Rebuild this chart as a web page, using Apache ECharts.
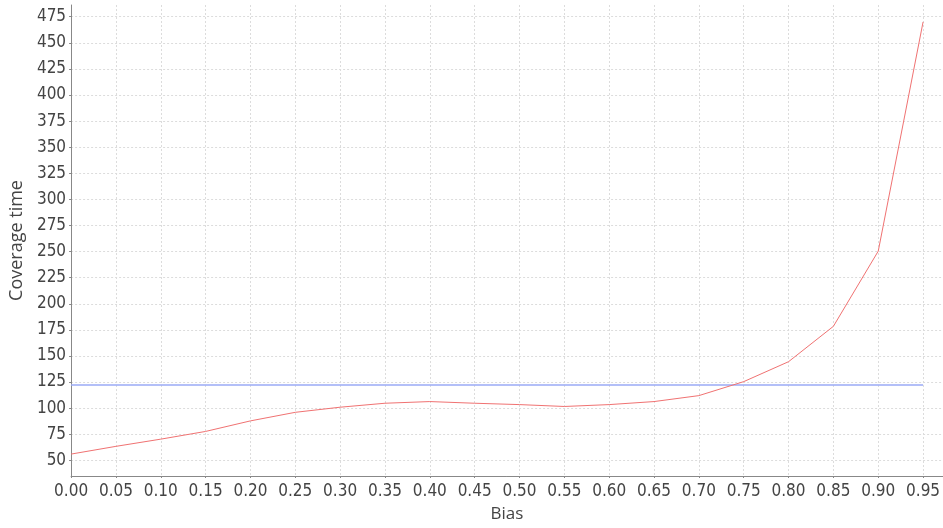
<!DOCTYPE html>
<html>
<head>
<meta charset="utf-8">
<style>
html,body{margin:0;padding:0;background:#fff;}
#chart{width:943px;height:528px;}
</style>
<script src="https://cdn.jsdelivr.net/npm/echarts@6/dist/echarts.min.js"></script>
</head>
<body>
<div id="chart"></div>
<script>
const bias = [0.00,0.05,0.10,0.15,0.20,0.25,0.30,0.35,0.40,0.45,0.50,0.55,0.60,0.65,0.70,0.75,0.80,0.85,0.90,0.95];
const coverageTime = [56,63.4,70.3,77.7,87.8,96,100.9,104.7,106.3,104.7,103.4,101.6,103.4,106.3,112,125.4,144.5,178.4,250.4,470];
const baselineValue = 122.1;
const baseline = bias.map(b => [b, baselineValue]);
const series1 = bias.map((b, i) => [b, coverageTime[i]]);

const tickFont = '"DejaVu Sans Condensed", "DejaVu Sans", sans-serif';
const titleFont = '"Open Sans", "Noto Sans", sans-serif';
const chart = echarts.init(document.getElementById('chart'));
chart.setOption({
  animation: false,
  backgroundColor: '#ffffff',
  grid: {left: 66.7, right: 0, top: 5, bottom: 50, containLabel: false},
  xAxis: {
    type: 'value', min: 0, max: 0.972, interval: 0.05,
    name: 'Bias', nameLocation: 'middle', nameGap: 30,
    nameTextStyle: {fontFamily: titleFont, fontSize: 17, color: '#444'},
    axisLine: {show: true, lineStyle: {color: '#888', width: 1}},
    axisTick: {show: true, length: 2, lineStyle: {color: '#888'}},
    axisLabel: {showMaxLabel: false, margin: 7, fontFamily: tickFont, fontSize: 17, color: '#444',
      formatter: v => v.toFixed(2)},
    splitLine: {show: true, showMaxLine: false, lineStyle: {color: '#dcdcdc', type: [2, 2], width: 1}}
  },
  yAxis: {
    type: 'value', min: 35, max: 486.2, minInterval: 25, maxInterval: 25,
    name: 'Coverage time', nameLocation: 'middle', nameGap: 42,
    nameTextStyle: {fontFamily: titleFont, fontSize: 18, color: '#444'},
    axisLine: {show: true, lineStyle: {color: '#888', width: 1}},
    axisTick: {show: true, length: 2, lineStyle: {color: '#888'}},
    axisLabel: {showMinLabel: false, showMaxLabel: false, margin: 5, padding: [2, 0, 0, 0],
      fontFamily: tickFont, fontSize: 17, color: '#444'},
    splitLine: {show: true, showMinLine: false, showMaxLine: false, lineStyle: {color: '#dcdcdc', type: [2, 2], width: 1}}
  },
  series: [
    {type: 'line', data: baseline, symbol: 'none', lineStyle: {color: '#9aabf6', width: 1.5}, z: 2},
    {type: 'line', data: series1, symbol: 'none', lineStyle: {color: '#f07272', width: 1}, z: 3}
  ]
});
</script>
</body>
</html>
